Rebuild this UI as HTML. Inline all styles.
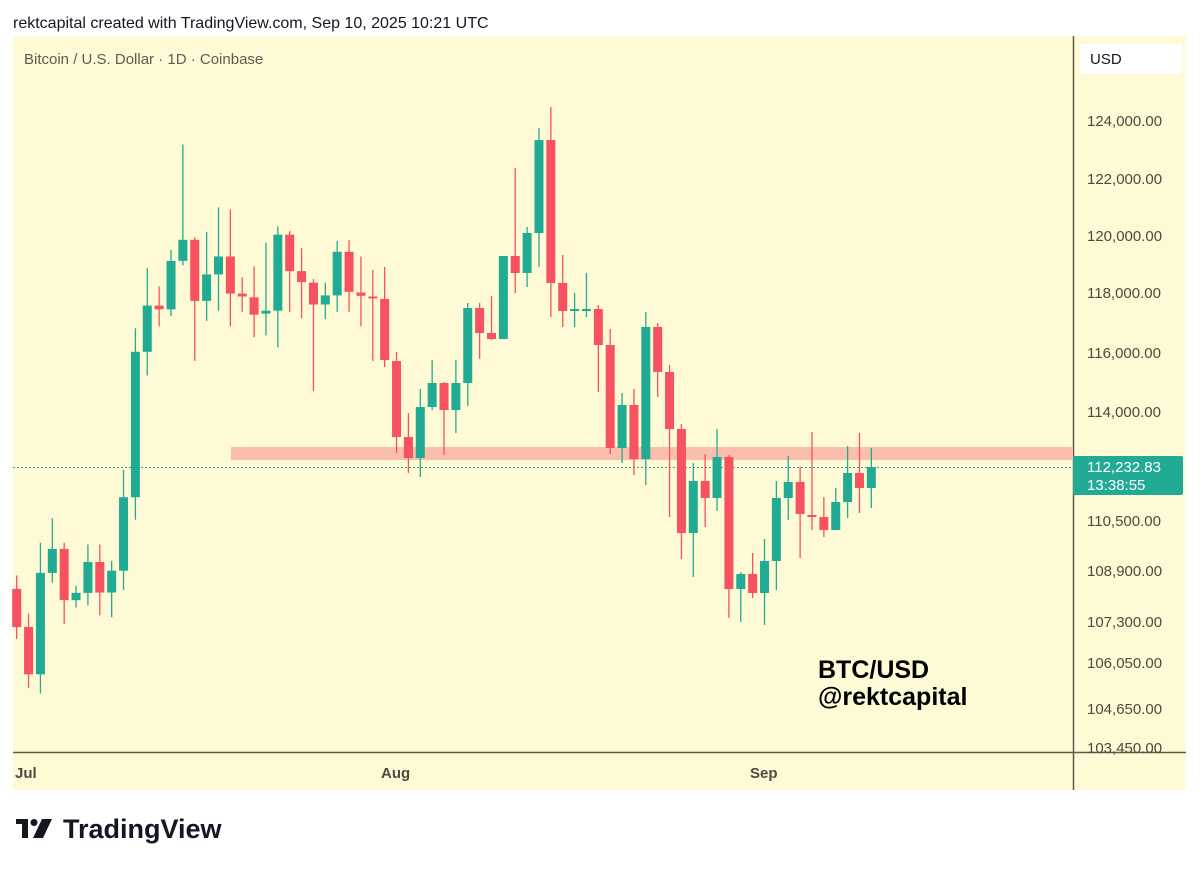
<!DOCTYPE html>
<html><head><meta charset="utf-8"><style>
html,body{margin:0;padding:0;background:#fff;}
body{width:1200px;height:869px;position:relative;overflow:hidden;font-family:"Liberation Sans",sans-serif;}
</style></head><body>
<svg width="1200" height="869" xmlns="http://www.w3.org/2000/svg" style="position:absolute;left:0;top:0">
<rect width="1200" height="869" fill="#ffffff"/>
<text x="13" y="28" font-size="16" fill="#131722" font-family="Liberation Sans">rektcapital created with TradingView.com, Sep 10, 2025 10:21 UTC</text>
<rect x="13" y="36" width="1173" height="754" fill="#fefad5"/>
<text x="24" y="64" font-size="15" fill="#5d5d50">Bitcoin / U.S. Dollar · 1D · Coinbase</text>
<rect x="1080" y="44" width="102" height="30" rx="3" fill="#ffffff"/>
<text x="1090" y="64" font-size="15" fill="#131722">USD</text>
<line x1="1073.5" y1="36" x2="1073.5" y2="790" stroke="#5e5a4a" stroke-width="1.5"/>
<line x1="13" y1="752.5" x2="1186" y2="752.5" stroke="#5e5a4a" stroke-width="1.5"/>
<g font-size="15" fill="#4d4b3e">
<text x="1087" y="126">124,000.00</text>
<text x="1087" y="184">122,000.00</text>
<text x="1087" y="241">120,000.00</text>
<text x="1087" y="298">118,000.00</text>
<text x="1087" y="358">116,000.00</text>
<text x="1087" y="417">114,000.00</text>
<text x="1087" y="526">110,500.00</text>
<text x="1087" y="576">108,900.00</text>
<text x="1087" y="627">107,300.00</text>
<text x="1087" y="668">106,050.00</text>
<text x="1087" y="714">104,650.00</text>
<text x="1087" y="753">103,450.00</text>
</g>
<g font-size="15" fill="#4d4b3e" font-weight="bold">
<text x="15" y="778">Jul</text>
<text x="381" y="778">Aug</text>
<text x="750" y="778">Sep</text>
</g>
<rect x="231" y="447" width="842" height="13" fill="#f9beac"/>
<line x1="13" y1="467.5" x2="1073" y2="467.5" stroke="#22ab94" stroke-width="1" stroke-dasharray="2,2"/>
<rect x="1073" y="456" width="110" height="39" rx="2" fill="#22ab94"/>
<text x="1087" y="472" font-size="15" fill="#ffffff">112,232.83</text>
<text x="1087" y="490" font-size="15" fill="#ffffff">13:38:55</text>
<g id="c"></g>
<text x="818" y="678" font-size="25" font-weight="bold" fill="#000">BTC/USD</text>
<text x="818" y="705" font-size="25" font-weight="bold" fill="#000">@rektcapital</text>
<g fill="#131722">
<rect x="16" y="819" width="12" height="5"/><rect x="22" y="819" width="6" height="19"/>
<circle cx="34" cy="822.5" r="3.5"/>
<polygon points="42,819 52,819 43,838 33,838"/>
</g>
<text x="63" y="838" font-size="27" font-weight="bold" fill="#131722">TradingView</text>
</svg>
<script>
var d=[
[588.9,627.1,575.4,639.1,0],[627,674.3,613.6,688.1,0],[572.9,674.3,542.7,693.6,1],[548.9,572.9,518.3,582.7,1],
[548.9,600.1,542.7,623.8,0],[592.9,600.1,585.6,607.4,1],[562,592.9,544.5,605.6,1],[562,592.5,544.5,615.4,0],
[570.7,592.5,560.9,617.2,1],[497.2,570.7,470,590,1],[351.8,497.2,328.2,519.8,1],[305.6,351.8,268.2,375.4,1],
[305.6,309.3,286.4,326.4,0],[260.9,309.3,250,316.2,1],[239.8,260.9,144.5,265.3,1],[239.8,300.9,237.3,360.9,0],
[274.4,300.9,231.8,320.9,1],[256.5,274.4,207.4,310.7,1],[256.5,293.6,209.3,326.4,0],[293.6,296.5,277.3,311.8,0],
[297.3,314.7,266.4,337.3,0],[310.7,313.6,242.7,335.4,1],[234.7,310.7,226.4,347.4,1],[234.7,271.1,231.1,311.8,0],
[271.1,282,248.2,318.3,0],[282.7,304.5,279.1,391.1,0],[295.4,304.5,282.7,319.1,1],[251.8,295.4,240.9,311.8,1],
[251.8,291.8,240.2,311.8,0],[292.5,295.8,256.5,326.4,0],[296.5,298.4,270,360.9,0],[299,360,267,367,0],
[361,437,352,453,0],[437,458,413,473,0],[407,458,389,477,1],[383,407,360,410,1],[383,410,382,455,0],
[383,410,360,433,1],[308,383,303,406,1],[308,333,303,359,0],[333,339,296,340,0],[256,339,256,339,1],
[256,273,168,293,0],[233,273,227,287,1],[140,233,128,267,1],[140,283,107,317,0],[283,311,255,327,0],
[309,311,293,327,1],[309,311,273,317,1],[309,345,305,392,0],[345,448,329,454,0],[405,448,393,463,1],
[405,459,389,475,0],[327,459,312,485,1],[327,372,323,397,0],[372,429,365,517,0],[429,533,424,559,0],
[481,533,463,577,1],[481,498,454,527,0],[457,498,429,511,1],[457,589,455,618,0],[574,589,572,622,1],
[574,593,553,598,0],[561,593,539,625,1],[498,561,481,590,1],[482,498,456,520,1],[482,514,467,558,0],
[515,517,432,530,0],[517,530,497,537,0],[502,530,488,530,1],[473,502,446,518,1],[473,488,433,513,0],[467,488,448,508,1]];
var g=document.getElementById('c'),s='';
for(var i=0;i<d.length;i++){var x=16.7+11.87*i,c=d[i][4]?'#22ab94':'#f7525f',t=d[i][0],b=d[i][1];if(b-t<1.5)b=t+1.5;
s+='<line x1="'+x+'" y1="'+d[i][2]+'" x2="'+x+'" y2="'+d[i][3]+'" stroke="'+c+'" stroke-width="1.3"/>';
s+='<rect x="'+(x-4.5)+'" y="'+t+'" width="9" height="'+(b-t)+'" fill="'+c+'"/>';}
g.innerHTML=s;
</script>
</body></html>
